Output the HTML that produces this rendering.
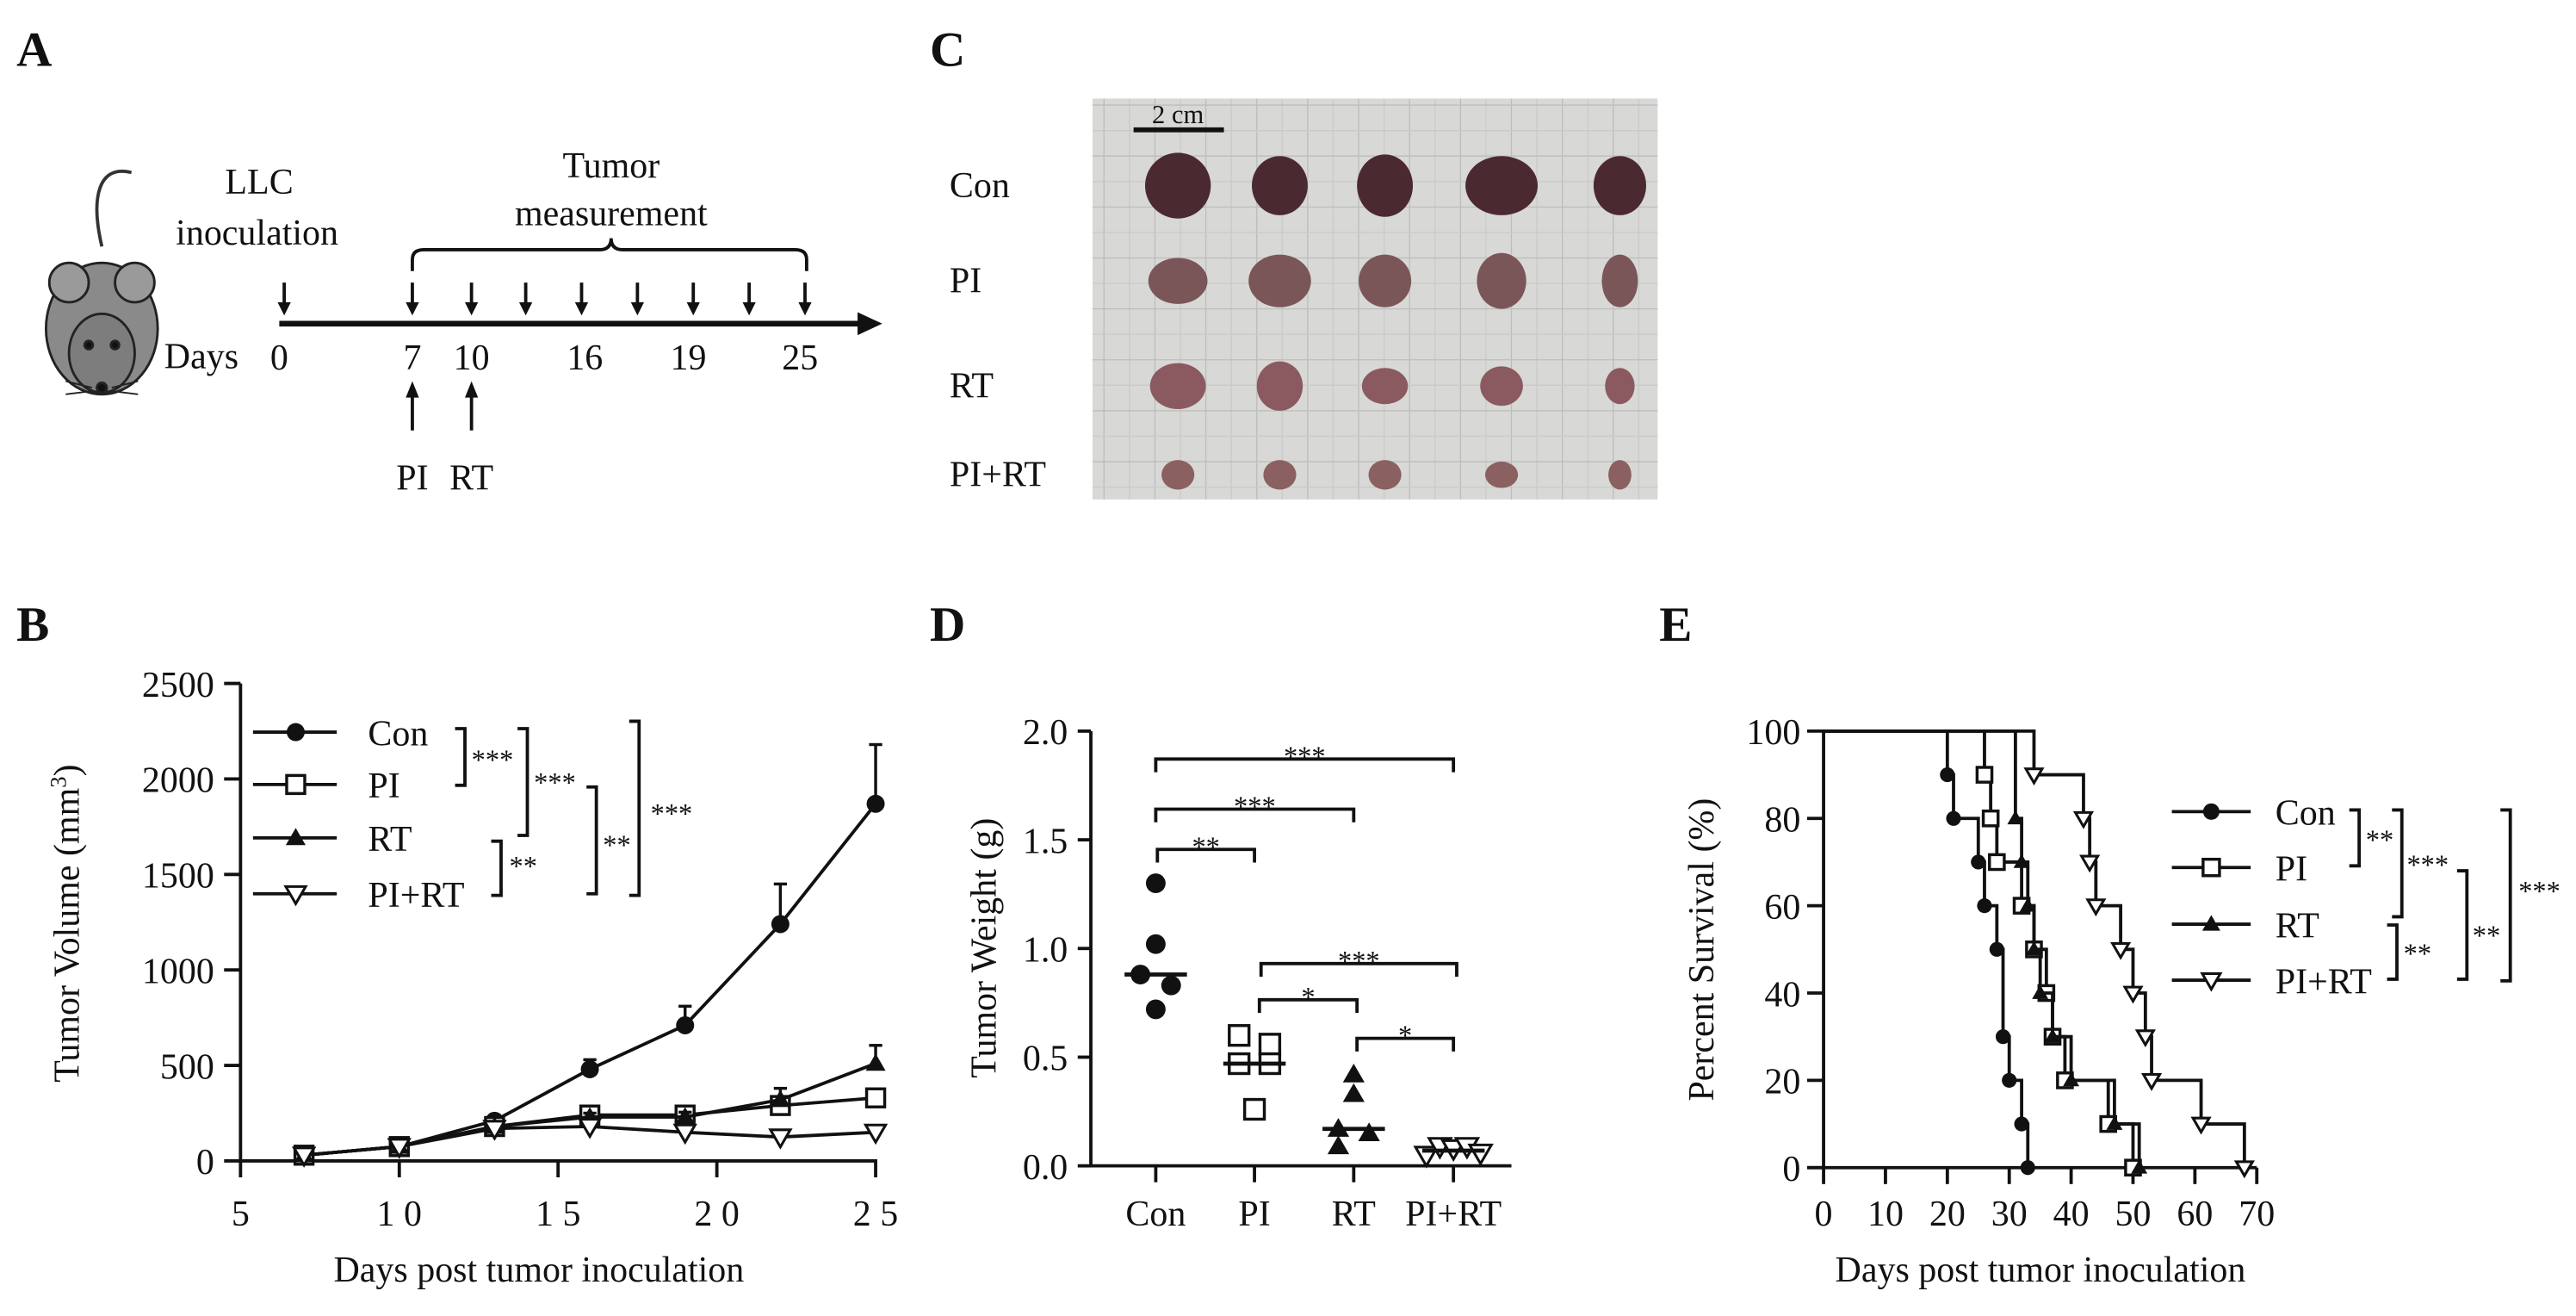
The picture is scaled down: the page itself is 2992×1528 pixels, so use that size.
<!DOCTYPE html>
<html><head><meta charset="utf-8"><style>
html,body{margin:0;padding:0;background:#fff}
svg{display:block}
text{font-family:"Liberation Serif",serif;fill:#111}
</style></head><body>
<svg id="fig" width="2992" height="1528" viewBox="0 0 1568 801" preserveAspectRatio="none" xmlns="http://www.w3.org/2000/svg">
<rect width="1568" height="801" fill="#fff"/>
<text x="10" y="40" font-size="30" font-weight="bold">A</text>
<text x="566" y="40" font-size="30" font-weight="bold">C</text>
<text x="10" y="390" font-size="30" font-weight="bold">B</text>
<text x="566" y="390" font-size="30" font-weight="bold">D</text>
<text x="1010" y="390" font-size="30" font-weight="bold">E</text>

<g stroke="#222" stroke-width="1.5">
  <path d="M62,150 C55,120 60,100 80,105" fill="none" stroke="#333" stroke-width="2"/>
  <ellipse cx="62" cy="200" rx="34" ry="40" fill="#8a8a8a"/>
  <circle cx="42" cy="172" r="12" fill="#9a9a9a"/>
  <circle cx="82" cy="172" r="12" fill="#9a9a9a"/>
  <ellipse cx="62" cy="215" rx="20" ry="24" fill="#7d7d7d"/>
  <circle cx="54" cy="210" r="2.5" fill="#111"/>
  <circle cx="70" cy="210" r="2.5" fill="#111"/>
  <circle cx="62" cy="236" r="3" fill="#111"/>
  <path d="M40,232 L56,236 M40,240 L56,238 M84,232 L68,236 M84,240 L68,238" fill="none" stroke-width="1"/>
</g>
<text x="137" y="118" font-size="22">LLC</text>
<text x="107" y="149" font-size="22">inoculation</text>
<text x="372" y="108" font-size="22" text-anchor="middle">Tumor</text>
<text x="372" y="137" font-size="22" text-anchor="middle">measurement</text>
<path d="M251,165 L251,158 Q251,152 258,152 L365,152 Q372,152 372,145 Q372,152 379,152 L484,152 Q491,152 491,158 L491,165" fill="none" stroke="#111" stroke-width="2"/>
<g id="timeline"></g>
<text x="100" y="224" font-size="22">Days</text>

<g id="photo"></g>
<g id="chartB"></g>
<g id="chartD"></g>
<g id="chartE"></g>
</svg>
<script>
// ---------- Panel B data ----------
const bDays = [7,10,13,16,19,22,25];
const bCon = [30,75,210,480,710,1240,1870];
const bConErr = [10,15,20,50,100,210,310];
const bPI = [30,75,180,240,240,290,330];
const bPIErr = [8,12,15,20,25,40,30];
const bRT = [30,75,180,230,230,320,510];
const bRTErr = [8,12,15,20,25,60,95];
const bPIRT = [30,75,170,180,150,125,150];
const bPIRTErr = [8,12,15,15,15,15,20];
const bYTicks = [0,500,1000,1500,2000,2500];
const bXTicks = [5,10,15,20,25];
const bXTickLabels = ["5","1 0","1 5","2 0","2 5"];
// ---------- Panel D data ----------
const dGroups = ["Con","PI","RT","PI+RT"];
const dCon = [1.30,1.02,0.88,0.83,0.72];
const dPI = [0.60,0.56,0.47,0.47,0.26];
const dRT = [0.42,0.33,0.17,0.15,0.09];
const dPIRT = [0.05,0.09,0.08,0.09,0.06];
const dMedians = [0.88,0.47,0.17,0.07];
const dYTicks = [0,0.5,1.0,1.5,2.0];
const dYTickLabels = ["0.0","0.5","1.0","1.5","2.0"];
// ---------- Panel E data ----------
const eConT = [20,21,25,26,28,29,30,32,33];
const eConS = [90,80,70,60,50,30,20,10,0];
const ePIT = [26,27,28,32,34,36,37,39,46,50];
const ePIS = [90,80,70,60,50,40,30,20,10,0];
const eRTT = [31,32,33,34,35,37,40,47,51];
const eRTS = [80,70,60,50,40,30,20,10,0];
const ePIRTT = [34,42,43,44,48,50,52,53,61,68];
const ePIRTS = [90,80,70,60,50,40,30,20,10,0];
const eYTicks = [0,20,40,60,80,100];
const eXTicks = [0,10,20,30,40,50,60,70];

const NS="http://www.w3.org/2000/svg";
function mk(parent,tag,attrs,text){const e=document.createElementNS(NS,tag);for(const k in attrs)e.setAttribute(k,attrs[k]);if(text!==undefined)e.textContent=text;parent.appendChild(e);return e;}
function line(p,x1,y1,x2,y2,w){return mk(p,'line',{x1,y1,x2,y2,stroke:'#111','stroke-width':w||2});}

function marker(p,type,x,y,s){
  let e;
  if(type==='circle'){e=mk(p,'circle',{cx:x,cy:y,r:s,fill:'#111'});}
  else if(type==='square'){e=mk(p,'rect',{x:x-s,y:y-s,width:2*s,height:2*s,fill:'#fff',stroke:'#111','stroke-width':1.8});}
  else if(type==='tri'){e=mk(p,'polygon',{points:`${x},${y-s*1.1} ${x-s*1.1},${y+s*0.8} ${x+s*1.1},${y+s*0.8}`,fill:'#111'});}
  else {e=mk(p,'polygon',{points:`${x},${y+s*1.1} ${x-s*1.1},${y-s*0.8} ${x+s*1.1},${y-s*0.8}`,fill:'#fff',stroke:'#111','stroke-width':1.6});}
  return e;
}
function bracket(p,x,y1,y2,label,tx,ty,name){
  const g=mk(p,'g',{});
  
  
  mk(g,'path',{d:`M${x-6},${y1} L${x},${y1} L${x},${y2} L${x-6},${y2}`,fill:'none',stroke:'#111','stroke-width':2});
  mk(g,'text',{x:tx,y:ty,'font-size':17},label);
}
function hbracket(p,x1,x2,y,label,name){
  const g=mk(p,'g',{});
  
  
  mk(g,'path',{d:`M${x1},${y+8} L${x1},${y} L${x2},${y} L${x2},${y+8}`,fill:'none',stroke:'#111','stroke-width':2});
  mk(g,'text',{x:(x1+x2)/2,y:y+4,'font-size':17,'text-anchor':'middle'},label);
}

(function(){
  const g=document.getElementById('timeline');
  line(g,170,197,525,197,3.5);
  const ah=mk(g,'polygon',{points:'537,197 522,190 522,204',fill:'#111'});
  
  const arrows=[173,251,287,320,354,388,422,456,490];
  arrows.forEach(x=>{line(g,x,172,x,186,2);mk(g,'polygon',{points:`${x},192 ${x-4},184 ${x+4},184`,fill:'#111'});});
  const lbl=[["0",170],["7",251],["10",287],["16",356],["19",419],["25",487]];
  lbl.forEach(([t,x])=>{const e=mk(g,'text',{x:x,y:225,'font-size':22,'text-anchor':'middle'},t);});
  [[251,"PI"],[287,"RT"]].forEach(([x,t])=>{line(g,x,262,x,240,2);mk(g,'polygon',{points:`${x},232 ${x-4},242 ${x+4},242`,fill:'#111'});const e=mk(g,'text',{x:x,y:298,'font-size':22,'text-anchor':'middle'},t);});
})();

(function(){
  const g=document.getElementById('photo');
  mk(g,'rect',{x:665,y:60,width:344,height:244,fill:'#d8d8d6'});
  for(let i=0;i<=21;i++){const x=672+i*15.5;mk(g,'line',{x1:x,y1:60,x2:x,y2:304,stroke:i%2?'#cacac8':'#bdbdbb','stroke-width':0.7});}
  for(let i=0;i<=15;i++){const y=64+i*15.5;mk(g,'line',{x1:665,y1:y,x2:1009,y2:y,stroke:i%2?'#cacac8':'#bdbdbb','stroke-width':0.7});}
  const sb=mk(g,'line',{x1:690,y1:79,x2:745,y2:79,stroke:'#111','stroke-width':3});
  
  mk(g,'text',{x:717,y:75,'font-size':16,'text-anchor':'middle'},'2 cm');
  const cols=[717,779,843,914,986];
  const rows=[{y:113,l:'Con',c:'#4a2a30',s:[[36,36],[30,32],[30,34],[40,32],[28,32]]},
              {y:171,l:'PI',c:'#7a5658',s:[[32,24],[34,28],[28,28],[26,30],[18,28]]},
              {y:235,l:'RT',c:'#8a5a60',s:[[30,24],[24,26],[24,18],[22,20],[14,18]]},
              {y:289,l:'PI+RT',c:'#8a6060',s:[[16,14],[16,14],[16,14],[16,12],[10,14]]}];
  rows.forEach(r=>{
    const t=mk(g,'text',{x:578,y:r.y+7,'font-size':22},r.l);
    
    r.s.forEach((s,i)=>{mk(g,'ellipse',{cx:cols[i],cy:r.y,rx:s[0]/2+2,ry:s[1]/2+2,fill:r.c});});
  });
})();

(function(){
  const g=document.getElementById('chartB');
  const x0=146.4,x1=533,y0=706.6,y1=416;
  const X=d=>x0+(d-5)/(25-5)*(x1-x0);
  const Y=v=>y0-(v/2500)*(y0-y1);
  line(g,x0,y1,x0,y0,2);line(g,x0,y0,x1+1,y0,2);
  bYTicks.forEach(v=>{line(g,x0-10,Y(v),x0,Y(v),2);const t=mk(g,'text',{x:x0-16,y:Y(v)+8,'font-size':22,'text-anchor':'end'},String(v));});
  bXTicks.forEach((v,i)=>{line(g,X(v),y0,X(v),y0+10,2);const t=mk(g,'text',{x:X(v),y:746,'font-size':22,'text-anchor':'middle'},bXTickLabels[i]);});
  const yt=mk(g,'text',{transform:`translate(48,562) rotate(-90)`,'font-size':22,'text-anchor':'middle'},'');
  
  yt.innerHTML='Tumor Volume (mm<tspan dy="-8" font-size="14">3</tspan><tspan dy="8">)</tspan>';
  const xt=mk(g,'text',{x:328,y:780,'font-size':22,'text-anchor':'middle'},'Days post tumor inoculation');
  
  const series=[['con',bCon,bConErr,'circle'],['pi',bPI,bPIErr,'square'],['rt',bRT,bRTErr,'tri'],['pirt',bPIRT,bPIRTErr,'tri-down']];
  series.forEach(([n,vals,err,m])=>{
    const sg=mk(g,'g',{});
    
    
    vals.forEach((v,i)=>{const x=X(bDays[i]);line(sg,x,Y(v),x,Y(v+err[i]),1.8);line(sg,x-4,Y(v+err[i]),x+4,Y(v+err[i]),1.8);});
    mk(sg,'polyline',{points:vals.map((v,i)=>X(bDays[i])+','+Y(v)).join(' '),fill:'none',stroke:'#111','stroke-width':2});
    vals.forEach((v,i)=>{const e=marker(sg,m,X(bDays[i]),Y(v),5.5);});
  });
  const leg=[['Con','circle',445.6],['PI','square',477.5],['RT','tri',510],['PI+RT','tri-down',544]];
  leg.forEach(([l,m,y])=>{const lg=mk(g,'g',{});line(lg,154,y,205,y,2);marker(lg,m,180,y,5.5);mk(lg,'text',{x:224,y:y+8,'font-size':22},l);});
  bracket(g,283,443.5,478,'***',287,468,'b-sig-con-pi');
  bracket(g,321,443.5,508.5,'***',325,482,'b-sig-con-rt');
  bracket(g,363,479,544,'**',367,520,'b-sig-pi-pirt');
  bracket(g,389,439,545,'***',396,501,'b-sig-con-pirt');
  bracket(g,305,512,545,'**',310,533,'b-sig-rt-pirt');
})();

(function(){
  const g=document.getElementById('chartD');
  const x0=664,y0=709.6,y1=445;
  const cx=[703.5,763.6,824,884.7];
  const Y=v=>y0-(v/2.0)*(y0-y1);
  line(g,x0,y1,x0,y0,2);line(g,x0,y0,920,y0,2);
  dYTicks.forEach((v,i)=>{line(g,x0-8,Y(v),x0,Y(v),2);const t=mk(g,'text',{x:x0-14,y:Y(v)+8,'font-size':22,'text-anchor':'end'},dYTickLabels[i]);});
  dGroups.forEach((l,i)=>{line(g,cx[i],y0,cx[i],y0+10,2);const t=mk(g,'text',{x:cx[i],y:746,'font-size':22,'text-anchor':'middle'},l);});
  const yt=mk(g,'text',{transform:`translate(606,577) rotate(-90)`,'font-size':22,'text-anchor':'middle'},'Tumor Weight (g)');
  
  const jit=[[0,0,-17,17,0],[-17,17,-17,17,0],[0,0,-17,17,-17],[-30,-15,0,15,30]];
  const data=[[dCon,'circle'],[dPI,'square'],[dRT,'tri'],[dPIRT,'tri-down']];
  data.forEach(([vals,m],gi)=>{
    const sg=mk(g,'g',{});
    
    
    vals.forEach((v,i)=>{const e=marker(sg,m,cx[gi]+jit[gi][i]*0.55,Y(v),6);});
    const ml=line(sg,cx[gi]-19,Y(dMedians[gi]),cx[gi]+19,Y(dMedians[gi]),2.5);
    
  });
  hbracket(g,cx[0],cx[3],462,'***','d-sig-con-pirt');
  hbracket(g,cx[0],cx[2],492.5,'***','d-sig-con-rt');
  hbracket(g,cx[0]+1,cx[1],517,'**','d-sig-con-pi');
  hbracket(g,cx[1]+4,cx[3]+2,586.5,'***','d-sig-pi-pirt');
  hbracket(g,cx[1]+3,cx[2]+2,608.5,'*','d-sig-pi-rt');
  hbracket(g,cx[2]+2,cx[3],632,'*','d-sig-rt-pirt');
})();

(function(){
  const g=document.getElementById('chartE');
  const x0=1110,x1=1373.7,y0=710.7,y1=445;
  const X=d=>x0+(d/70)*(x1-x0);
  const Y=v=>y0-(v/100)*(y0-y1);
  line(g,x0,y1,x0,y0,2);line(g,x0-10,y0,x1,y0,2);
  eYTicks.forEach(v=>{line(g,x0-10,Y(v),x0,Y(v),2);const t=mk(g,'text',{x:x0-14,y:Y(v)+8,'font-size':22,'text-anchor':'end'},String(v));});
  eXTicks.forEach(v=>{line(g,X(v),y0,X(v),y0+10,2);const t=mk(g,'text',{x:X(v),y:746,'font-size':22,'text-anchor':'middle'},String(v));});
  const yt=mk(g,'text',{transform:`translate(1043,578) rotate(-90)`,'font-size':22,'text-anchor':'middle'},'Percent Survival (%)');
  
  const xt=mk(g,'text',{x:1242,y:780,'font-size':22,'text-anchor':'middle'},'Days post tumor inoculation');
  
  const series=[['con',eConT,eConS,'circle'],['pi',ePIT,ePIS,'square'],['rt',eRTT,eRTS,'tri'],['pirt',ePIRTT,ePIRTS,'tri-down']];
  series.forEach(([n,T,S,m])=>{
    const sg=mk(g,'g',{});
    
    
    let d=`M${X(0)},${Y(100)}`;let prev=100;
    T.forEach((t,i)=>{d+=` L${X(t)},${Y(prev)} L${X(t)},${Y(S[i])}`;prev=S[i];});
    mk(sg,'path',{d:d,fill:'none',stroke:'#111','stroke-width':2});
    T.forEach((t,i)=>{const e=marker(sg,m,X(t),Y(S[i]),4.5);});
  });
  const leg=[['Con','circle',494],['PI','square',528],['RT','tri',562.5],['PI+RT','tri-down',596.6]];
  leg.forEach(([l,m,y])=>{const lg=mk(g,'g',{});line(lg,1322,y,1370,y,2);marker(lg,m,1346,y,5);mk(lg,'text',{x:1385,y:y+8,'font-size':22},l);});
  bracket(g,1436,493,527,'**',1440,517,'e-sig-con-pi');
  bracket(g,1462,493,558,'***',1465,532,'e-sig-con-rt');
  bracket(g,1459,563,596,'**',1463,586,'e-sig-rt-pirt');
  bracket(g,1501.6,530,596,'**',1505,575,'e-sig-pi-pirt');
  bracket(g,1528,493,597,'***',1533,548,'e-sig-con-pirt');
})();
</script>
</body></html>
